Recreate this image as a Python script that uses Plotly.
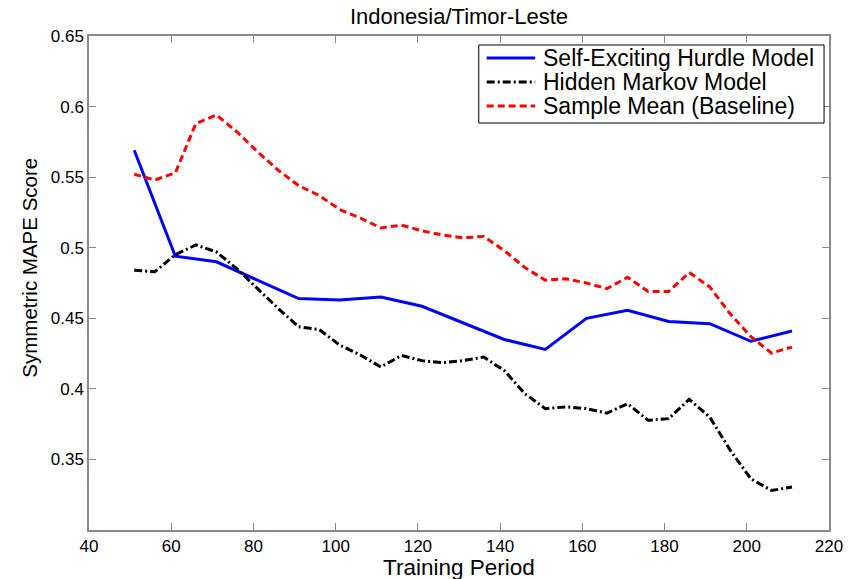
import plotly.graph_objects as go

# Training period lengths (every 5 periods) and scores per model
periods = [51, 56, 61, 66, 71, 76, 81, 86, 91, 96, 101, 106, 111, 116, 121, 126, 131,
           136, 141, 146, 151, 156, 161, 166, 171, 176, 181, 186, 191, 196, 201, 206, 211]
hurdle_periods = [51, 61, 71, 81, 91, 101, 111, 121, 131, 141, 151, 161, 171, 181, 191, 201, 211]

hurdle_scores = [0.569, 0.494, 0.490, 0.477, 0.464, 0.463, 0.465, 0.4585, 0.447,
                 0.435, 0.428, 0.450, 0.4557, 0.4477, 0.4462, 0.4337, 0.441]

hmm_scores = [0.484, 0.483, 0.495, 0.502, 0.497, 0.485, 0.471, 0.457, 0.444, 0.442,
              0.431, 0.424, 0.4155, 0.4237, 0.420, 0.4186, 0.420, 0.4225, 0.413, 0.3966,
              0.386, 0.3872, 0.386, 0.3828, 0.3895, 0.3777, 0.3789, 0.3926, 0.380, 0.3564,
              0.3363, 0.328, 0.3304]

baseline_scores = [0.552, 0.548, 0.553, 0.588, 0.594, 0.582, 0.568, 0.555, 0.544, 0.537,
                   0.527, 0.521, 0.514, 0.516, 0.512, 0.509, 0.507, 0.508, 0.498, 0.486,
                   0.477, 0.478, 0.475, 0.471, 0.479, 0.469, 0.469, 0.4824, 0.4722, 0.453,
                   0.437, 0.4254, 0.4296]

series_names = ["Self-Exciting Hurdle Model", "Hidden Markov Model", "Sample Mean (Baseline)"]

x_ticks = [40, 60, 80, 100, 120, 140, 160, 180, 200, 220]
y_ticks = [0.35, 0.4, 0.45, 0.5, 0.55, 0.6, 0.65]
y_tick_text = ["0.35", "0.4", "0.45", "0.5", "0.55", "0.6", "0.65"]

FONT = "Liberation Sans, Arial, sans-serif"
W, H = 855, 579
ML, MR, MT, MB = 89, 18, 36, 49
PW, PH = W - ML - MR, H - MT - MB

styles = [
    dict(color="#0000ff", width=3),
    dict(color="#000000", width=3, dash="8px,3px,2px,3px"),
    dict(color="#ff0000", width=3, dash="7px,4px"),
]


def px_x(px):
    return (px - ML) / PW


def px_y(py):
    return (H - MB - py) / PH


fig = go.Figure()
fig.add_trace(go.Scatter(x=hurdle_periods, y=hurdle_scores, mode="lines",
                         name=series_names[0], line=styles[0]))
fig.add_trace(go.Scatter(x=periods, y=hmm_scores, mode="lines",
                         name=series_names[1], line=styles[1]))
fig.add_trace(go.Scatter(x=periods, y=baseline_scores, mode="lines",
                         name=series_names[2], line=styles[2]))

axis_common = dict(
    showgrid=False, zeroline=False, showline=True, linecolor="#8a8a8a", linewidth=1.5,
    mirror="ticks", ticks="inside", ticklen=7, tickcolor="#8a8a8a", tickwidth=1,
    tickfont=dict(family=FONT, size=17, color="#000000"),
)

fig.update_xaxes(range=[40, 220], tickvals=x_ticks, **axis_common)
fig.update_yaxes(range=[0.3, 0.65], tickvals=y_ticks, ticktext=y_tick_text, **axis_common)

# Boxed legend in the upper-right corner of the axes
shapes = [dict(type="rect", xref="paper", yref="paper",
               x0=px_x(483), x1=px_x(832), y0=px_y(123), y1=px_y(45),
               line=dict(color="#000000", width=1), fillcolor="white", layer="above")]
annotations = []
for i, (name, style) in enumerate(zip(series_names, styles)):
    row_y = px_y(58 + 24 * i)
    shapes.append(dict(type="line", xref="paper", yref="paper",
                       x0=px_x(491), x1=px_x(540), y0=row_y, y1=row_y,
                       line=style, layer="above"))
    annotations.append(dict(text=name, xref="paper", yref="paper",
                            x=px_x(546), y=row_y, xanchor="left", yanchor="middle",
                            showarrow=False,
                            font=dict(family=FONT, size=23, color="#000000")))

annotations += [
    dict(text="Indonesia/Timor-Leste", xref="paper", yref="paper",
         x=0.5, y=px_y(17), xanchor="center", yanchor="middle", showarrow=False,
         font=dict(family=FONT, size=22, color="#000000")),
    dict(text="Training Period", xref="paper", yref="paper",
         x=0.5, y=px_y(567), xanchor="center", yanchor="middle", showarrow=False,
         font=dict(family=FONT, size=22.5, color="#000000")),
    dict(text="Symmetric MAPE Score", xref="paper", yref="paper",
         x=px_x(28), y=px_y(268), xanchor="center", yanchor="middle", showarrow=False,
         textangle=-90,
         font=dict(family=FONT, size=20.5, color="#000000")),
]

fig.update_layout(
    width=W, height=H,
    margin=dict(l=ML, r=MR, t=MT, b=MB),
    paper_bgcolor="white", plot_bgcolor="white",
    showlegend=False,
    shapes=shapes,
    annotations=annotations,
)

fig.write_html("out.html")
